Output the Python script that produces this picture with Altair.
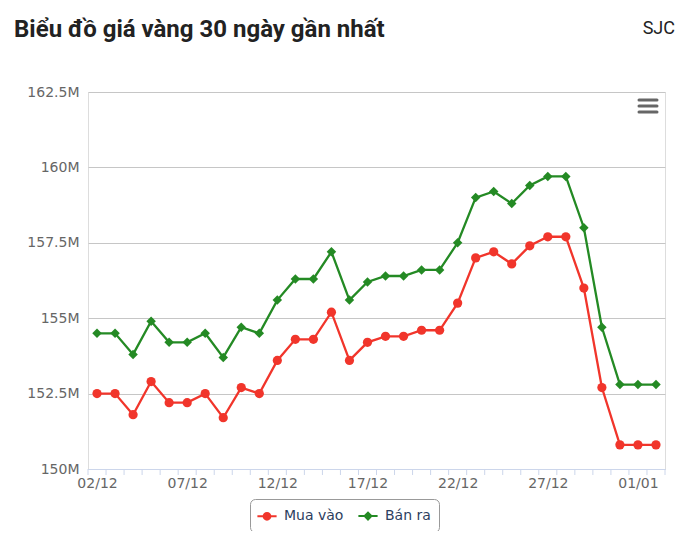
import altair as alt
import pandas as pd

# ---- data (values in millions VND) ----
dates = ["2025-12-02", "2025-12-03", "2025-12-04", "2025-12-05", "2025-12-06", "2025-12-07",
         "2025-12-08", "2025-12-09", "2025-12-10", "2025-12-11", "2025-12-12", "2025-12-13",
         "2025-12-14", "2025-12-15", "2025-12-16", "2025-12-17", "2025-12-18", "2025-12-19",
         "2025-12-20", "2025-12-21", "2025-12-22", "2025-12-23", "2025-12-24", "2025-12-25",
         "2025-12-26", "2025-12-27", "2025-12-28", "2025-12-29", "2025-12-30", "2025-12-31",
         "2026-01-01", "2026-01-02"]
buy = [152.5, 152.5, 151.8, 152.9, 152.2, 152.2, 152.5, 151.7,
       152.7, 152.5, 153.6, 154.3, 154.3, 155.2, 153.6, 154.2,
       154.4, 154.4, 154.6, 154.6, 155.5, 157.0, 157.2, 156.8,
       157.4, 157.7, 157.7, 156.0, 152.7, 150.8, 150.8, 150.8]
sell = [154.5, 154.5, 153.8, 154.9, 154.2, 154.2, 154.5, 153.7,
        154.7, 154.5, 155.6, 156.3, 156.3, 157.2, 155.6, 156.2,
        156.4, 156.4, 156.6, 156.6, 157.5, 159.0, 159.2, 158.8,
        159.4, 159.7, 159.7, 158.0, 154.7, 152.8, 152.8, 152.8]
series_names = ["Mua vào", "Bán ra"]
series_colors = ["#f1352b", "#248a24"]
series_shapes = ["circle", "diamond"]
series_sizes = [85, 90]
y_ticks = [150, 152.5, 155, 157.5, 160, 162.5]
x_label_dates = ["2025-12-02", "2025-12-07", "2025-12-12", "2025-12-17",
                 "2025-12-22", "2025-12-27", "2026-01-01"]
title_text = "Biểu đồ giá vàng 30 ngày gần nhất"
brand_text = "SJC"

rows = []
for i, d in enumerate(dates):
    rows.append({"date": d, "series": series_names[0], "value": buy[i]})
    rows.append({"date": d, "series": series_names[1], "value": sell[i]})
df = pd.DataFrame(rows)

# category boundaries (half a day before each date, plus one after the last)
day_starts = pd.to_datetime(dates, utc=True)
bounds = list(day_starts - pd.Timedelta(hours=12)) + [day_starts[-1] + pd.Timedelta(hours=12)]
tick_df = pd.DataFrame({"date": [b.strftime("%Y-%m-%dT%H:%M:%SZ") for b in bounds]})


def dt(s, hours=0):
    t = pd.Timestamp(s, tz="UTC") + pd.Timedelta(hours=hours)
    return alt.DateTime(year=t.year, month=t.month, date=t.day, hours=t.hour, utc=True)


W, H = 577, 377
AXIS_FONT = "DejaVu Sans"

x_scale = alt.Scale(type="utc", domain=[dt(dates[0], -12), dt(dates[-1], 12)], nice=False)
y_scale = alt.Scale(domain=[y_ticks[0], y_ticks[-1]], nice=False, zero=False)

x_axis = alt.Axis(
    values=[dt(d) for d in x_label_dates],
    format="%d/%m",
    labelOverlap=False, labelFlush=False,
    title=None, grid=False, ticks=False,
    domainColor="#ccd6eb", domainWidth=1,
    labelFont=AXIS_FONT, labelFontSize=14, labelColor="#666666", labelPadding=7,
)
y_axis = alt.Axis(
    values=y_ticks,
    labelExpr="datum.value + 'M'",
    title=None, domain=False, ticks=False,
    grid=True, gridColor="#c6c6c6", gridWidth=1,
    labelFont=AXIS_FONT, labelFontSize=14, labelColor="#666666", labelPadding=9,
)

X = alt.X("date:T", scale=x_scale, axis=x_axis)
Y = alt.Y("value:Q", scale=y_scale, axis=y_axis)

base = alt.Chart(df)

data_layers = []
for name, col, shp, sz in zip(series_names, series_colors, series_shapes, series_sizes):
    sub = base.transform_filter(alt.datum.series == name)
    data_layers.append(sub.mark_line(strokeWidth=2.3, color=col).encode(x=X, y=Y))
for name, col, shp, sz in zip(series_names, series_colors, series_shapes, series_sizes):
    sub = base.transform_filter(alt.datum.series == name)
    data_layers.append(
        sub.mark_point(shape=shp, filled=True, size=sz, opacity=1, color=col).encode(x=X, y=Y)
    )

ticks_layer = alt.Chart(tick_df).mark_rule(color="#ccd6eb", strokeWidth=1).encode(
    x=alt.X("date:T", scale=x_scale, axis=x_axis),
    y=alt.value(H), y2=alt.value(H + 6),
)

legend_shapes = [
    "M-1.2,-0.125H1.2V0.125H-1.2Z M0.55,0A0.55,0.55,0,1,1,-0.55,0A0.55,0.55,0,1,1,0.55,0Z",
    "M-1.2,-0.125H1.2V0.125H-1.2Z M0,-0.6L0.6,0L0,0.6L-0.6,0Z",
]
legend_props = dict(
    title=None, orient="none", legendX=162, legendY=407,
    direction="horizontal",
    strokeColor="#999999", cornerRadius=5, fillColor="white", padding=8,
    symbolSize=256, symbolOpacity=1,
    labelFont=AXIS_FONT, labelFontSize=14, labelColor="#2d3e60",
    labelOffset=8, columnPadding=11,
)

legend_layer = base.mark_point(filled=True, opacity=0).encode(
    x=X, y=Y,
    color=alt.Color("series:N", scale=alt.Scale(domain=series_names, range=series_colors),
                    legend=alt.Legend(**legend_props)),
    shape=alt.Shape("series:N", scale=alt.Scale(domain=series_names, range=legend_shapes),
                    legend=alt.Legend(**legend_props)),
)

one = alt.Data(values=[{"k": 1}])

title_mark = alt.Chart(one).mark_text(
    font="Roboto", fontSize=24, fontWeight="bold", color="#222222",
    align="left", baseline="alphabetic",
).encode(x=alt.value(-74), y=alt.value(-55), text=alt.value(title_text))

brand_mark = alt.Chart(one).mark_text(
    font="Roboto", fontSize=18, color="#222222",
    align="right", baseline="alphabetic",
).encode(x=alt.value(587), y=alt.value(-58), text=alt.value(brand_text))

menu_layers = []
for yy in [8, 14, 20]:
    menu_layers.append(
        alt.Chart(one).mark_rule(color="#666666", strokeWidth=3, strokeCap="round").encode(
            x=alt.value(551), x2=alt.value(569), y=alt.value(yy)
        )
    )

chart = alt.layer(
    ticks_layer, *data_layers, legend_layer, title_mark, brand_mark, *menu_layers
).properties(
    width=W, height=H,
    autosize=alt.AutoSizeParams(type="none"),
    padding={"left": 80, "top": 84, "right": 27, "bottom": 62},
).configure_view(stroke=None).configure(background="white")

chart.save("out.html", embed_options={"renderer": "svg", "actions": False})
